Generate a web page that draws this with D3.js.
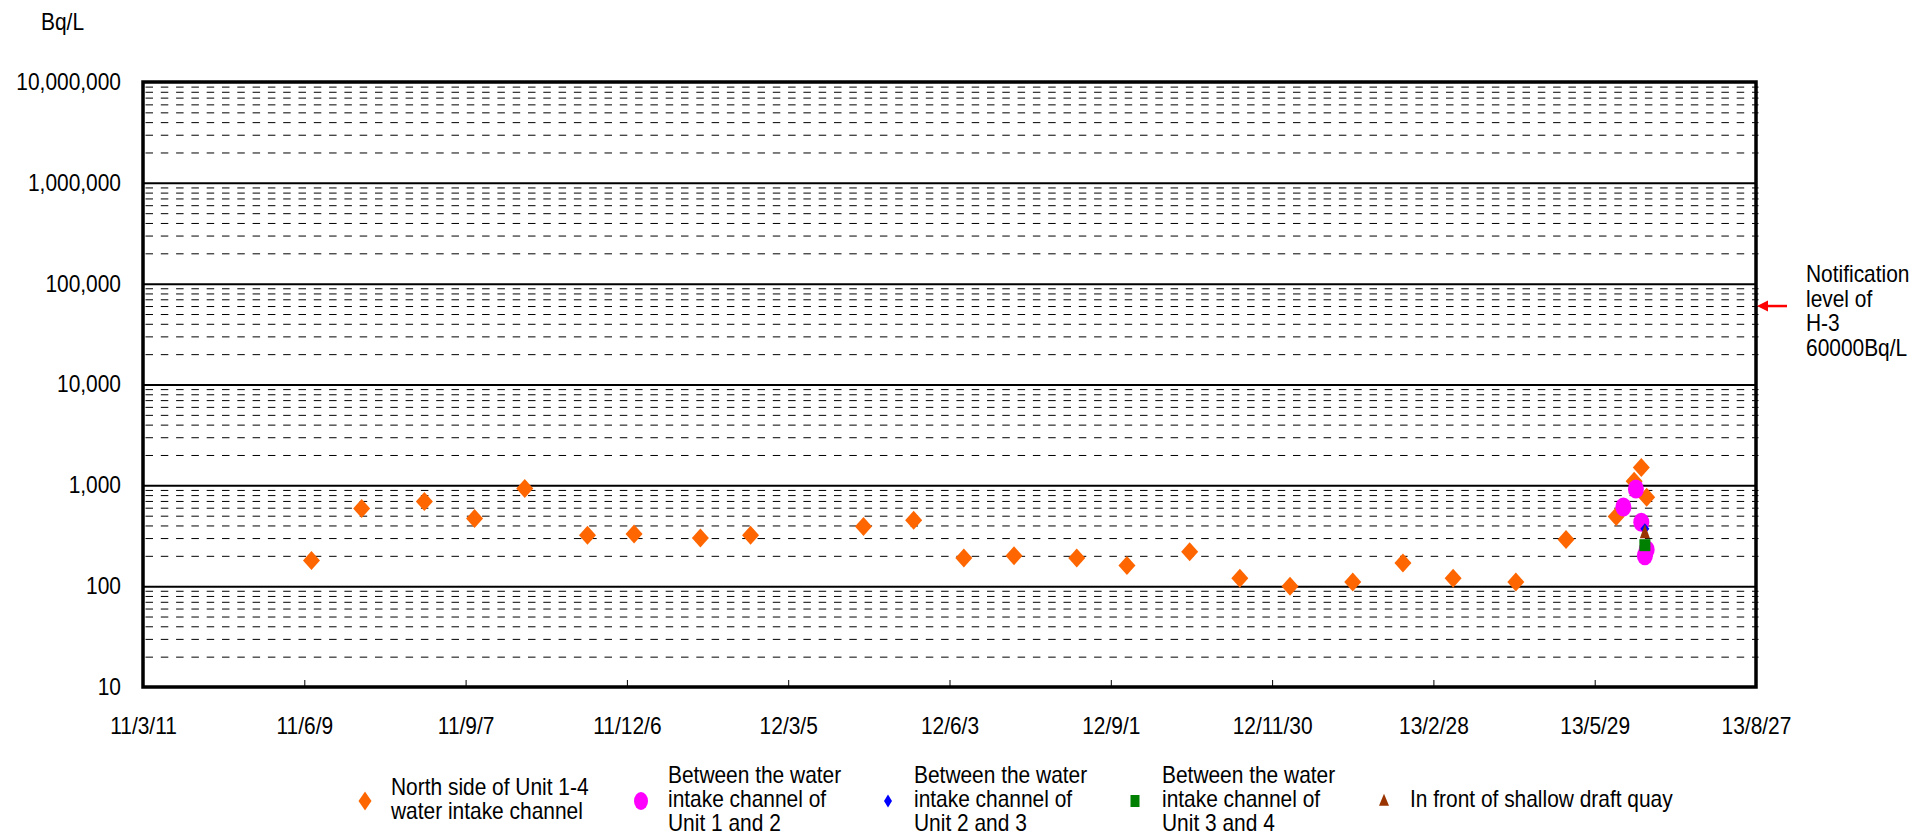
<!DOCTYPE html>
<html>
<head>
<meta charset="utf-8">
<script src="https://cdn.jsdelivr.net/npm/d3@7"></script>
<style>
  html, body { margin: 0; padding: 0; background: #fff; }
  svg { display: block; font-family: "Liberation Sans", Arial, sans-serif; }
</style>
</head>
<body>
<svg id="chart" width="1930" height="837"></svg>
<script>
// ---------- data ----------
const xTickLabels = ["11/3/11","11/6/9","11/9/7","11/12/6","12/3/5","12/6/3","12/9/1","12/11/30","13/2/28","13/5/29","13/8/27"];
const yTickValues = [10, 100, 1000, 10000, 100000, 1000000, 10000000];

const northDates = ["2011-06-13","2011-07-11","2011-08-15","2011-09-12","2011-10-10","2011-11-14","2011-12-10",
  "2012-01-16","2012-02-13","2012-04-16","2012-05-14","2012-06-11","2012-07-09","2012-08-13","2012-09-10",
  "2012-10-15","2012-11-12","2012-12-10","2013-01-14","2013-02-11","2013-03-11","2013-04-15","2013-05-13",
  "2013-06-10","2013-06-20","2013-06-24","2013-06-27"];
const northValues = [180,590,690,470,930,320,330,300,320,390,450,190,200,190,160,220,120,100,110,170,120,110,290,490,1100,1500,760];

const unit12Dates = ["2013-06-14","2013-06-21","2013-06-24","2013-06-27","2013-06-26"];
const unit12Values = [610,920,430,230,200];

const unit23Dates = ["2013-06-26"];
const unit23Values = [370];

const unit34Dates = ["2013-06-26"];
const unit34Values = [255];

const quayDates = ["2013-06-26"];
const quayValues = [340];

const legendLabels = [
  ["North side of Unit 1-4","water intake channel"],
  ["Between the water","intake channel of","Unit 1 and 2"],
  ["Between the water","intake channel of","Unit 2 and 3"],
  ["Between the water","intake channel of","Unit 3 and 4"],
  ["In front of shallow draft quay"]
];
const notificationLines = ["Notification","level of","H-3","60000Bq/L"];
const notificationValue = 60000;
const yUnitLabel = "Bq/L";

// ---------- layout ----------
const L = 143, R = 1756, T = 82, B = 687;
const FS = 23, SX = 0.91;
const FONT = "Liberation Sans, Arial, sans-serif";
const svg = d3.select("#chart");
svg.append("rect").attr("width",1930).attr("height",837).attr("fill","#fff");

const parseTick = d3.utcParse("%y/%m/%d");
const parseDate = d3.utcParse("%Y-%m-%d");
const tickDates = xTickLabels.map(parseTick);
const fmtTick = d3.utcFormat("%y/%-m/%-d");

const x = d3.scaleUtc().domain([tickDates[0], tickDates[tickDates.length-1]]).range([L, R]);
const y = d3.scaleLog().domain([10, 1e7]).range([B, T]);

// condensed text block helper
function textBlock(parent, x0, y0, lines, lh, anchor) {
  const g = parent.append("g").attr("transform", `translate(${x0},${y0}) scale(${SX},1)`);
  const t = g.append("text").attr("font-size", FS).attr("font-family", FONT).attr("fill", "#000")
    .attr("text-anchor", anchor || "start");
  lines.forEach((ln, j) => t.append("tspan").attr("x", 0).attr("y", j * lh).text(ln));
  return g;
}

// minor dashed gridlines
const minor = [];
for (let e = 1; e < 7; e++) for (let m = 2; m <= 9; m++) minor.push(m * Math.pow(10, e));
svg.append("g").attr("transform", `translate(${L},0)`)
  .call(d3.axisLeft(y).tickValues(minor).tickSize(-(R - L)).tickFormat(""))
  .call(g => g.select(".domain").remove())
  .call(g => g.selectAll("line").attr("stroke","#000").attr("stroke-width",1).attr("stroke-dasharray","7.5,7.8")
           .attr("transform","translate(2.5,0)"));

// major solid gridlines
svg.append("g").attr("transform", `translate(${L},0)`)
  .call(d3.axisLeft(y).tickValues(yTickValues.slice(1, -1)).tickSize(-(R - L)).tickFormat(""))
  .call(g => g.select(".domain").remove())
  .call(g => g.selectAll("line").attr("stroke","#000").attr("stroke-width",2));

// y labels
svg.append("g").attr("transform", `translate(${L},0)`)
  .call(d3.axisLeft(y).tickValues(yTickValues).tickSize(0).tickPadding(22).tickFormat(d3.format(",")))
  .call(g => g.select(".domain").remove())
  .call(g => g.selectAll("text").attr("font-size", FS).attr("font-family", FONT).attr("fill","#000")
           .attr("x", 0).attr("transform", `translate(-22,0) scale(${SX},1)`));

// x axis ticks (inward) and labels
svg.append("g").attr("transform", `translate(0,${B})`)
  .call(d3.axisBottom(x).tickValues(tickDates).tickSize(-7).tickPadding(0).tickFormat(fmtTick))
  .call(g => g.select(".domain").remove())
  .call(g => g.selectAll("line").attr("stroke","#000").attr("stroke-width",1))
  .call(g => g.selectAll("text").attr("font-size", FS).attr("font-family", FONT)
           .attr("fill","#000").attr("y", 0).attr("dy", 0).attr("transform", `translate(0,47) scale(${SX},1)`));

// frame
svg.append("rect").attr("x", L).attr("y", T).attr("width", R - L).attr("height", B - T)
  .attr("fill","none").attr("stroke","#000").attr("stroke-width",3.5);

// unit label
textBlock(svg, 41, 30, [yUnitLabel], 0);

// ---------- markers ----------
function diamondPath(w, h) { return `M0,${-h/2}L${w/2},0L0,${h/2}L${-w/2},0Z`; }
function trianglePath(w, h) { return `M0,${-h*0.6}L${w/2},${h*0.4}L${-w/2},${h*0.4}Z`; }

const series = [
  {dates: northDates, values: northValues, color: "#FF6600", shape: "diamond", w: 17, h: 19, lw: 13, lh: 19},
  {dates: unit12Dates, values: unit12Values, color: "#FF00FF", shape: "ellipse", w: 16, h: 19, lw: 14, lh: 18},
  {dates: unit23Dates, values: unit23Values, color: "#0000FF", shape: "diamond", w: 9, h: 11, lw: 8, lh: 13},
  {dates: unit34Dates, values: unit34Values, color: "#008000", shape: "rect", w: 11, h: 12, lw: 9, lh: 12},
  {dates: quayDates, values: quayValues, color: "#993300", shape: "triangle", w: 10, h: 14, lw: 10, lh: 12}
];

function drawMarker(g, s, w, h) {
  if (s.shape === "diamond") g.append("path").attr("d", diamondPath(w, h)).attr("fill", s.color);
  else if (s.shape === "ellipse") g.append("ellipse").attr("rx", w/2).attr("ry", h/2).attr("fill", s.color);
  else if (s.shape === "rect") g.append("rect").attr("x", -w/2).attr("y", -h/2).attr("width", w).attr("height", h).attr("fill", s.color);
  else g.append("path").attr("d", trianglePath(w, h)).attr("fill", s.color);
}

const plot = svg.append("g");
series.forEach(s => {
  s.dates.forEach((d, i) => {
    const g = plot.append("g").attr("transform", `translate(${x(parseDate(d))},${y(s.values[i])})`);
    drawMarker(g, s, s.w, s.h);
  });
});

// ---------- notification ----------
const ny = y(notificationValue);
svg.append("line").attr("x1", R + 31).attr("x2", R + 8).attr("y1", ny).attr("y2", ny)
  .attr("stroke", "#FF0000").attr("stroke-width", 2.5);
svg.append("path").attr("d", `M${R + 1},${ny}L${R + 12},${ny - 5.5}L${R + 12},${ny + 5.5}Z`).attr("fill", "#FF0000");
textBlock(svg, 1806, 282, notificationLines, 24.7);

// ---------- legend ----------
const legendMarkerX = [365, 641, 888, 1135, 1384];
const legendTextX = [391, 668, 914, 1162, 1410];
const legendY = 801;
series.forEach((s, i) => {
  const g = svg.append("g").attr("transform", `translate(${legendMarkerX[i]},${legendY})`);
  drawMarker(g, s, s.lw, s.lh);
  const lines = legendLabels[i];
  const lh = 24;
  const y0 = 799 - (lines.length - 1) * lh / 2 + 8;
  textBlock(svg, legendTextX[i], y0, lines, lh);
});
</script>
</body>
</html>
